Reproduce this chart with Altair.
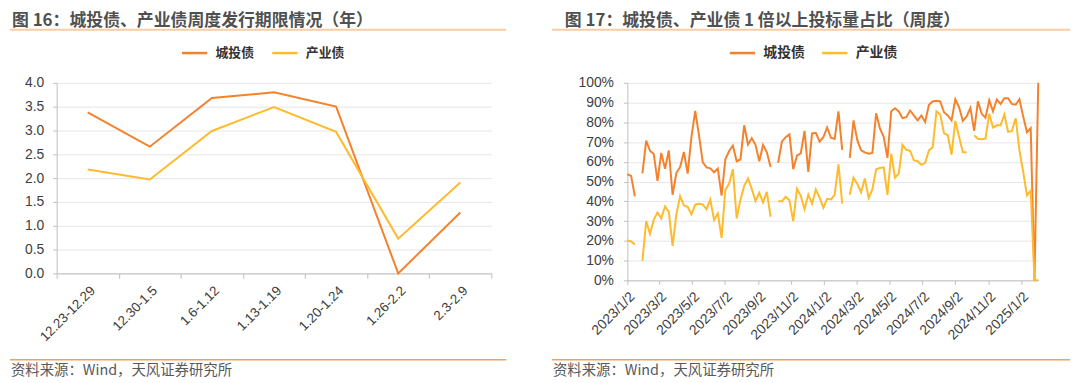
import altair as alt
import pandas as pd

FONT_CJK = "Noto Sans CJK SC"
FONT_NUM = "Liberation Sans"
ORANGE = "#F4822C"
YELLOW = "#FDBB2D"

series_names = ["城投债", "产业债"]

# ---- left panel: weekly issuance tenor (years)
cats = ["12.23-12.29", "12.30-1.5", "1.6-1.12", "1.13-1.19", "1.20-1.24", "1.26-2.2", "2.3-2.9"]
cty_term = [3.38, 2.66, 3.68, 3.80, 3.50, 0.0, 1.28]
cyb_term = [2.18, 1.97, 2.99, 3.49, 2.97, 0.73, 1.91]

# ---- right panel: share of bids >= 1x (weekly, %), first week 2023/1/2
first_week = "2023-01-02"
ratio_cty = [
    53.7, 52.9, 42.5, None, 54.2, 70.7, 65.6, 64.0, 50.4, 64.5,
    56.5, 65.8, 43.3, 54.3, 57.4, 65.0, 54.0, 72.5, 85.8, 73.5,
    59.8, 57.2, 56.7, 54.7, 56.6, 42.9, 61.3, 65.5, 68.2, 60.3,
    61.2, 78.5, 68.8, 72.0, 68.6, 60.3, 68.6, 64.8, 57.4, None,
    59.5, 70.2, 72.5, 73.9, 56.3, 63.1, 64.3, 75.7, 54.9, 74.4,
    74.7, 70.2, 72.5, 77.4, 72.2, 71.6, 85.6, 66.1, None, 62.0,
    81.0, 71.0, 65.8, 64.8, 64.1, 64.5, 84.6, 76.9, 72.7, 62.0,
    85.6, 87.1, 85.5, 82.1, 82.6, 86.0, 83.5, 81.0, 83.5, 80.2,
    88.9, 90.6, 90.9, 90.6, 85.1, 83.5, 81.0, 91.7, 87.6, 80.7,
    83.0, 87.3, 75.7, 90.6, 84.3, 82.3, 91.2, 85.6, 91.6, 89.3,
    92.2, 92.2, 89.3, 88.9, 91.7, 83.0, 75.0, 77.0, 0.0, 100.0,
]
ratio_cyb = [
    20.2, 19.7, 18.2, None, 9.9, 30.0, 23.5, 30.6, 34.4, 31.4,
    37.4, 34.7, 17.4, 33.4, 42.6, 38.0, 37.2, 33.4, 38.3, 38.8,
    38.5, 36.0, 41.0, 30.6, 33.9, 21.5, 45.8, 49.0, 56.2, 31.4,
    40.8, 47.9, 51.6, 46.3, 40.2, 44.3, 39.5, 44.8, 32.2, None,
    40.0, 40.0, 42.3, 40.5, 30.0, 46.4, 42.8, 36.0, 43.4, 38.8,
    46.0, 41.9, 36.7, 41.3, 41.0, 43.3, 58.7, 38.8, None, 43.3,
    52.0, 48.8, 44.6, 51.6, 41.7, 46.0, 56.2, 56.9, 57.2, 43.3,
    64.1, 52.0, 54.2, 68.6, 66.1, 65.6, 60.8, 60.3, 58.5, 59.5,
    65.8, 67.4, 85.6, 84.0, 74.4, 73.6, 63.6, 80.7, 72.7, 64.8,
    64.8, None, 73.4, 71.7, 71.4, 71.7, 84.3, 77.4, 78.5, 78.5,
    84.0, 75.2, 75.5, 82.1, 66.0, 55.0, 43.0, 45.5, 0.0, 0.0,
]
x_ticks = ["2023/1/2", "2023/3/2", "2023/5/2", "2023/7/2", "2023/9/2", "2023/11/2",
           "2024/1/2", "2024/3/2", "2024/5/2", "2024/7/2", "2024/9/2", "2024/11/2", "2025/1/2"]
x_domain = ["2023/1/2", "2025/2/3"]
pct_ticks = list(range(0, 101, 10))
term_ticks = [0, 0.5, 1.0, 1.5, 2.0, 2.5, 3.0, 3.5, 4.0]

title_left = "图 16：城投债、产业债周度发行期限情况（年）"
title_right = "图 17：城投债、产业债 1 倍以上投标量占比（周度）"
source = "资料来源：Wind，天风证券研究所"


def dt(s):
    y, m, d = [int(p) for p in s.split("/")]
    return alt.DateTime(year=y, month=m, date=d)


# ---- tables
left_rows = []
for name, vals in zip(series_names, [cty_term, cyb_term]):
    for i, (c, v) in enumerate(zip(cats, vals)):
        left_rows.append({"cat": c, "series": name, "value": v, "idx": i})
left_df = pd.DataFrame(left_rows)

dates = pd.date_range(first_week, periods=len(ratio_cty), freq="7D")
right_rows = []
for name, vals in zip(series_names, [ratio_cty, ratio_cyb]):
    seg = 0
    for i, (d, v) in enumerate(zip(dates, vals)):
        if v is None:
            seg += 1
            continue
        right_rows.append({"date": d.strftime("%Y/%m/%d"), "series": name,
                           "seg": f"{name}{seg}", "value": v, "idx": i})
right_df = pd.DataFrame(right_rows)


def legend(lx, ly, fs):
    return alt.Legend(title=None, orient="none", legendX=lx, legendY=ly, direction="horizontal",
                      symbolType="stroke", symbolSize=650, symbolStrokeWidth=2.5,
                      labelFont=FONT_CJK, labelFontSize=fs, labelFontWeight="bold",
                      labelColor="#333333", labelOffset=7, columnPadding=12)


def decorations(title, tx, x0, x1):
    one = pd.DataFrame({"t": [title], "s": [source]})
    t = alt.Chart(one).mark_text(align="left", baseline="middle", font=FONT_CJK, fontSize=17,
                                 fontWeight="bold", color="#505050").encode(
        x=alt.value(tx), y=alt.value(-62.5), text="t:N")
    r1 = alt.Chart(one).mark_rule(color="#F9CDA4", strokeWidth=2).encode(
        x=alt.value(x0), x2=alt.value(x1), y=alt.value(-53.5))
    r2 = alt.Chart(one).mark_rule(color="#F5A14F", strokeWidth=1.5).encode(
        x=alt.value(x0), x2=alt.value(x1), y=alt.value(279))
    s = alt.Chart(one).mark_text(align="left", baseline="middle", font=FONT_CJK, fontSize=14.5,
                                 color="#595959").encode(
        x=alt.value(x0 + 1), y=alt.value(290), text="s:N")
    return [t, r1, r2, s]


left_lines = alt.Chart(left_df).mark_line(strokeWidth=2).encode(
    x=alt.X("cat:N", sort=cats,
            scale=alt.Scale(type="band", paddingInner=0, paddingOuter=0),
            axis=alt.Axis(title=None, labelAngle=-45, tickBand="extent", grid=False,
                          labelFontSize=13.5, tickSize=5, labelPadding=5)),
    y=alt.Y("value:Q", scale=alt.Scale(domain=[0, 4]),
            axis=alt.Axis(title=None, values=term_ticks, format=".1f", tickSize=4, labelPadding=9)),
    color=alt.Color("series:N", scale=alt.Scale(domain=series_names, range=[ORANGE, YELLOW]),
                    legend=legend(125, -44, 13)),
    order=alt.Order("idx:Q"),
)

left = alt.layer(left_lines, *decorations(title_left, -45, -47, 453)).properties(width=438, height=192)

right_lines = alt.Chart(right_df).mark_line(strokeWidth=2).encode(
    x=alt.X("date:T", scale=alt.Scale(domain=[dt(x_domain[0]), dt(x_domain[1])]),
            axis=alt.Axis(title=None, values=[dt(v) for v in x_ticks], format="%Y/%-m/%-d",
                          labelAngle=-45, grid=False, tickSize=4, labelPadding=5,
                          labelOverlap=False)),
    y=alt.Y("value:Q", scale=alt.Scale(domain=[0, 100]),
            axis=alt.Axis(title=None, values=pct_ticks, labelExpr="datum.value + '%'",
                          tickSize=4, labelPadding=10)),
    color=alt.Color("series:N", scale=alt.Scale(domain=series_names, range=[ORANGE, YELLOW]),
                    legend=legend(102, -44, 14)),
    detail="seg:N",
    order=alt.Order("idx:Q"),
)

right = alt.layer(right_lines, *decorations(title_right, -63, -76, 446)).properties(width=414, height=199)

chart = alt.hconcat(left, right, spacing=42).resolve_scale(color="independent").resolve_legend(
    color="independent").properties(
    padding={"left": 0, "top": 2, "right": 0, "bottom": 0}
).configure_view(stroke="transparent").configure_axis(
    domainColor="#BFBFBF", tickColor="#BFBFBF", gridColor="#E6E6E6", labelColor="#404040",
    labelFont=FONT_NUM, labelFontSize=14, domainWidth=1, tickWidth=1)

chart.save("out.html", embed_options={"renderer": "svg", "actions": False})
